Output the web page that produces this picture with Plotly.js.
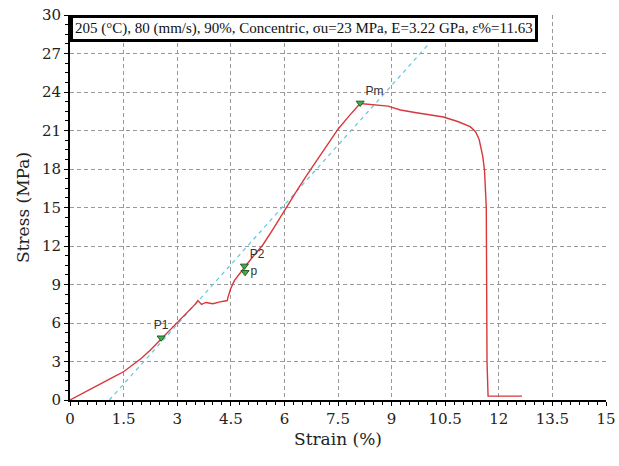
<!DOCTYPE html>
<html>
<head>
<meta charset="utf-8">
<script src="https://cdn.plot.ly/plotly-3.0.1.min.js"></script>
<style>html,body{margin:0;padding:0;background:#fff;}#chart{width:619px;height:466px;}</style>
</head>
<body>
<div id="chart"></div>
<script>
// Stress-strain curve
var strain = [0, 0.1, 0.3, 0.5, 0.75, 1.0, 1.25, 1.5, 1.75, 2.0, 2.25, 2.5, 2.75, 3.0, 3.25, 3.5,
  3.58, 3.68, 3.8, 4.0, 4.2, 4.4, 4.42, 4.5, 4.6, 4.75, 4.9, 5.1, 5.4, 5.7, 6.0, 6.3, 6.6, 6.9,
  7.2, 7.5, 7.8, 8.0, 8.12, 8.9, 9.25, 9.65, 10.45, 10.85, 11.2, 11.35, 11.45, 11.55, 11.6,
  11.65, 11.67, 11.7, 12.65];
var stress = [0, 0.15, 0.45, 0.75, 1.15, 1.5, 1.85, 2.2, 2.7, 3.25, 3.9, 4.6, 5.3, 6.0, 6.7, 7.45,
  7.75, 7.45, 7.6, 7.5, 7.65, 7.75, 8.0, 8.7, 9.3, 9.9, 10.4, 11.1, 12.1, 13.4, 14.8, 16.1, 17.4, 18.6,
  19.9, 21.1, 22.1, 22.7, 23.1, 22.9, 22.6, 22.4, 22.05, 21.7, 21.3, 20.9, 20.3, 19.0, 17.9,
  15.0, 3.0, 0.3, 0.3];
// Modulus (offset) line end points
var modX = [1.1, 10.06];
var modY = [0, 27.8];
// Marked points
var markX = [2.55, 4.88, 4.9, 8.12];
var markY = [4.85, 10.45, 9.95, 23.15];
var markLabels = ["P1", "P2", "p", "Pm"];
var xTicks = [0, 1.5, 3, 4.5, 6, 7.5, 9, 10.5, 12, 13.5, 15];
var yTicks = [0, 3, 6, 9, 12, 15, 18, 21, 24, 27, 30];
var infoText = "205 (°C), 80 (mm/s), 90%, Concentric, σu=23 MPa, E=3.22 GPa, ε%=11.63";

var axisFont = "DejaVu Serif";

var traces = [
  {x: modX, y: modY, mode: "lines", line: {color: "#62c6dc", width: 1.2, dash: "4px,4px"}, hoverinfo: "skip"},
  {x: strain, y: stress, mode: "lines", line: {color: "#d8373b", width: 1.4, shape: "linear"}},
  {x: markX, y: markY, mode: "markers+text", text: markLabels,
   textposition: ["top center", "top right", "middle right", "top right"],
   textfont: {family: "Liberation Sans", size: 12, color: "#333"},
   marker: {symbol: "triangle-down", size: 7, color: "#4aa84a", line: {color: "#1f5f1f", width: 1}}}
];

function axis(extra) {
  var a = {
    showline: true, linecolor: "#000", linewidth: 2, mirror: false,
    ticks: "outside", ticklen: 4, tickcolor: "#000",
    showgrid: true, gridcolor: "#9a9a9a", gridwidth: 1, griddash: "4px,3px",
    zeroline: false,
    tickfont: {family: axisFont, size: 15, color: "#222"}
  };
  for (var k in extra) a[k] = extra[k];
  return a;
}

var layout = {
  width: 619, height: 466,
  margin: {l: 70, r: 13, t: 15, b: 66},
  paper_bgcolor: "#fff", plot_bgcolor: "#fff",
  showlegend: false,
  font: {family: axisFont, size: 15, color: "#222"},
  xaxis: axis({
    range: [0, 15], tickmode: "array", tickvals: xTicks, ticktext: xTicks.map(String),
    minor: {dtick: 0.25, ticks: "outside", ticklen: 3, tickcolor: "#000", showgrid: false},
    title: {text: "Strain (%)", font: {family: axisFont, size: 17, color: "#222"}, standoff: 6}
  }),
  yaxis: axis({
    range: [0, 30], tickmode: "array", tickvals: yTicks, ticktext: yTicks.map(String),
    minor: {dtick: 0.75, ticks: "outside", ticklen: 3, tickcolor: "#000", showgrid: false},
    title: {text: "Stress (MPa)", font: {family: axisFont, size: 17, color: "#222"}, standoff: 8}
  }),
  annotations: [{
    xref: "paper", yref: "paper", x: 0, y: 1, xanchor: "left", yanchor: "top",
    text: infoText, showarrow: false, align: "left",
    font: {family: "Liberation Serif", size: 15, color: "#111"},
    bgcolor: "#fff", bordercolor: "#000", borderwidth: 3, borderpad: 2
  }]
};

Plotly.newPlot("chart", traces, layout, {displayModeBar: false, staticPlot: true});
</script>
</body>
</html>
